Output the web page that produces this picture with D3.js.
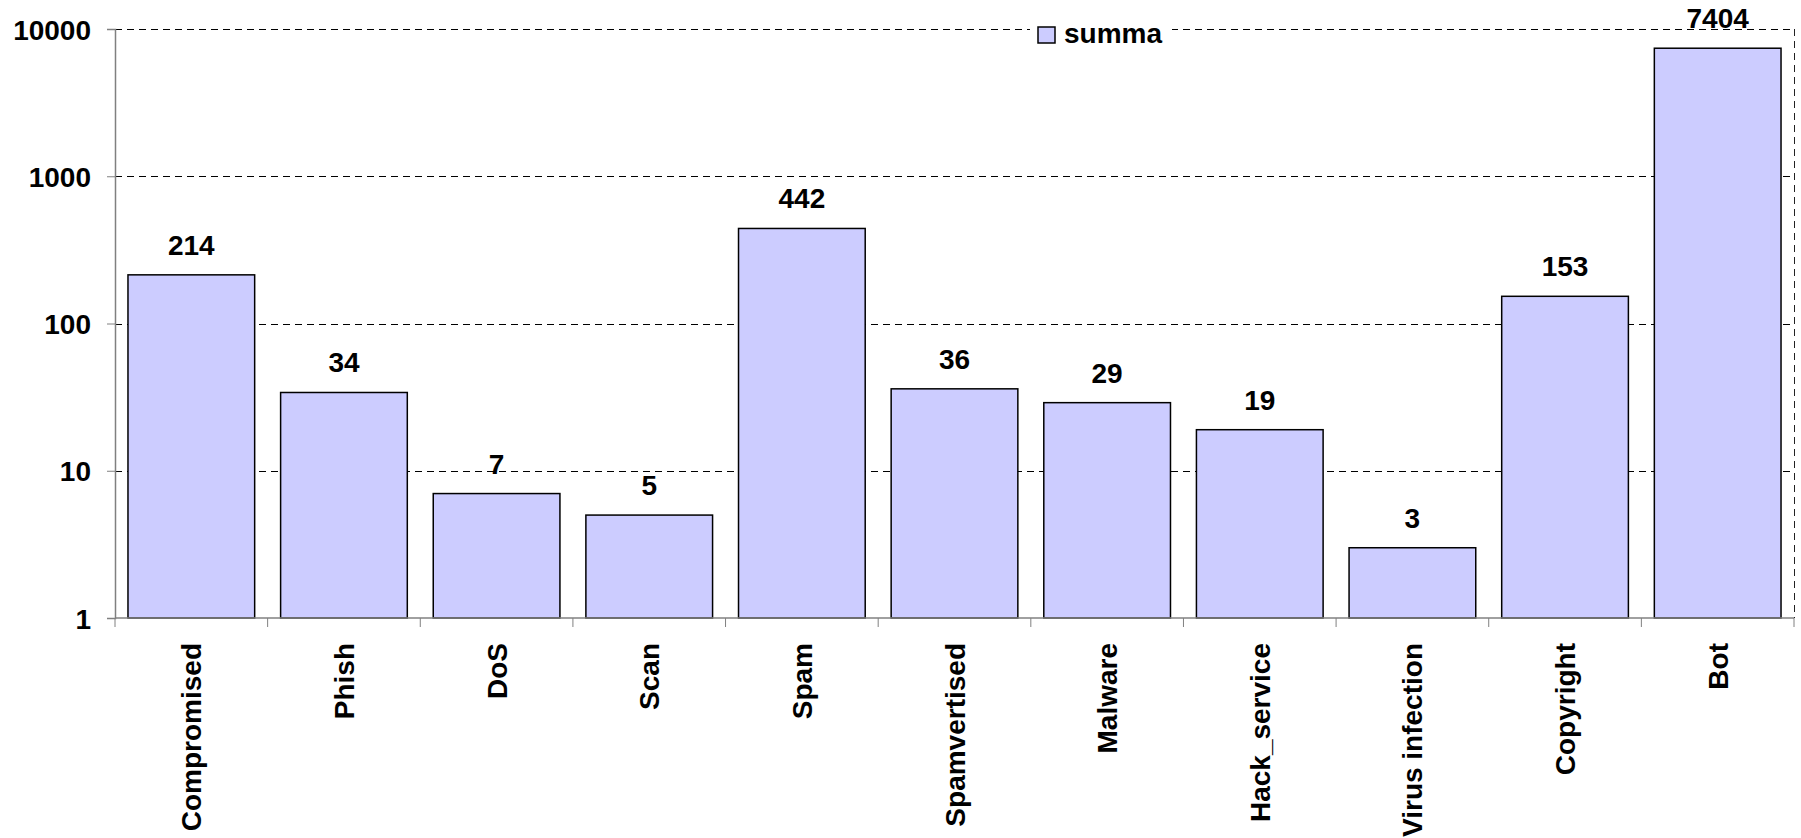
<!DOCTYPE html>
<html>
<head>
<meta charset="utf-8">
<script src="https://cdn.jsdelivr.net/npm/d3@7"></script>
<style>
  body { margin: 0; background: #fff; }
  svg text { font-family: "Liberation Sans", Arial, sans-serif; font-weight: bold; fill: #000; }
</style>
</head>
<body>
<div id="chart"></div>
<script>
const categorias = ["Compromised", "Phish", "DoS", "Scan", "Spam", "Spamvertised",
                    "Malware", "Hack_service", "Virus infection", "Copyright", "Bot"];
const valores = [214, 34, 7, 5, 442, 36, 29, 19, 3, 153, 7404];
const ticksY = [1, 10, 100, 1000, 10000];
const serie = "summa";

const width = 1801;
const height = 838;
const margem = { top: 29, right: 7, bottom: 220, left: 115 };
const fonte = 28;

const svg = d3.select("#chart")
    .append("svg")
    .attr("width", width)
    .attr("height", height);

const x = d3.scaleBand()
    .domain(categorias)
    .range([margem.left, width - margem.right])
    .paddingInner(0.17)
    .paddingOuter(0.085);

const y = d3.scaleLog()
    .domain([1, 10000])
    .range([height - margem.bottom, margem.top]);

const x0 = margem.left, x1 = width - margem.right;
const y0 = height - margem.bottom, y1 = margem.top;

// grade tracejada
svg.append("g")
    .selectAll("line")
    .data(ticksY.slice(1))
    .enter()
    .append("line")
    .attr("x1", x0).attr("x2", x1)
    .attr("y1", d => Math.round(y(d)) + 0.5).attr("y2", d => Math.round(y(d)) + 0.5)
    .attr("stroke", "#000")
    .attr("stroke-width", 1)
    .attr("stroke-dasharray", "7,5");

// borda da area do grafico
svg.append("line")
    .attr("x1", x1 + 0.5).attr("x2", x1 + 0.5)
    .attr("y1", y1).attr("y2", y0)
    .attr("stroke", "#222")
    .attr("stroke-dasharray", "7,5");

// barras
svg.append("g")
    .selectAll("rect")
    .data(valores)
    .enter()
    .append("rect")
    .attr("x", (d, i) => x(categorias[i]))
    .attr("y", d => y(d))
    .attr("width", x.bandwidth())
    .attr("height", d => y(1) - y(d))
    .attr("fill", "#ccccff")
    .attr("stroke", "#000")
    .attr("stroke-width", 1.5);

// eixo y
const eixoY = svg.append("g")
    .attr("transform", `translate(${x0},0)`)
    .call(d3.axisLeft(y).tickValues(ticksY).tickFormat(d3.format("d")).tickSize(8).tickPadding(16));
eixoY.select(".domain").attr("stroke", "#808080").attr("stroke-width", 1.5);
eixoY.selectAll(".tick line").attr("stroke", "#808080");
eixoY.selectAll(".tick text")
    .style("font-size", fonte + "px")
    .attr("dy", "0.36em");

// eixo x
svg.append("line")
    .attr("x1", x0).attr("x2", x1)
    .attr("y1", y0).attr("y2", y0)
    .attr("stroke", "#808080")
    .attr("stroke-width", 1.5);

const limites = categorias.map(c => x(c) - x.step() * x.paddingInner() / 2);
limites.push(x1);
svg.append("g")
    .selectAll("line")
    .data(limites)
    .enter()
    .append("line")
    .attr("x1", d => d).attr("x2", d => d)
    .attr("y1", y0).attr("y2", y0 + 9)
    .attr("stroke", "#808080");

svg.append("g")
    .selectAll("text")
    .data(categorias)
    .enter()
    .append("text")
    .attr("transform", d => `translate(${x(d) + x.bandwidth() / 2 + 10},${y0 + 25}) rotate(-90)`)
    .attr("text-anchor", "end")
    .style("font-size", fonte + "px")
    .text(d => d);

// rotulos de valor
svg.append("g")
    .selectAll("text")
    .data(valores)
    .enter()
    .append("text")
    .attr("x", (d, i) => x(categorias[i]) + x.bandwidth() / 2)
    .attr("y", d => y(d) - 20)
    .attr("text-anchor", "middle")
    .style("font-size", fonte + "px")
    .text(d => d);

// legenda
const legenda = svg.append("g").attr("transform", "translate(1030,14)");
legenda.append("rect")
    .attr("width", 142).attr("height", 32)
    .attr("fill", "#fff");
legenda.append("rect")
    .attr("x", 8).attr("y", 13)
    .attr("width", 17).attr("height", 16)
    .attr("fill", "#ccccff")
    .attr("stroke", "#000")
    .attr("stroke-width", 1.5);
legenda.append("text")
    .attr("x", 34).attr("y", 29)
    .style("font-size", fonte + "px")
    .text(serie);
</script>
</body>
</html>
